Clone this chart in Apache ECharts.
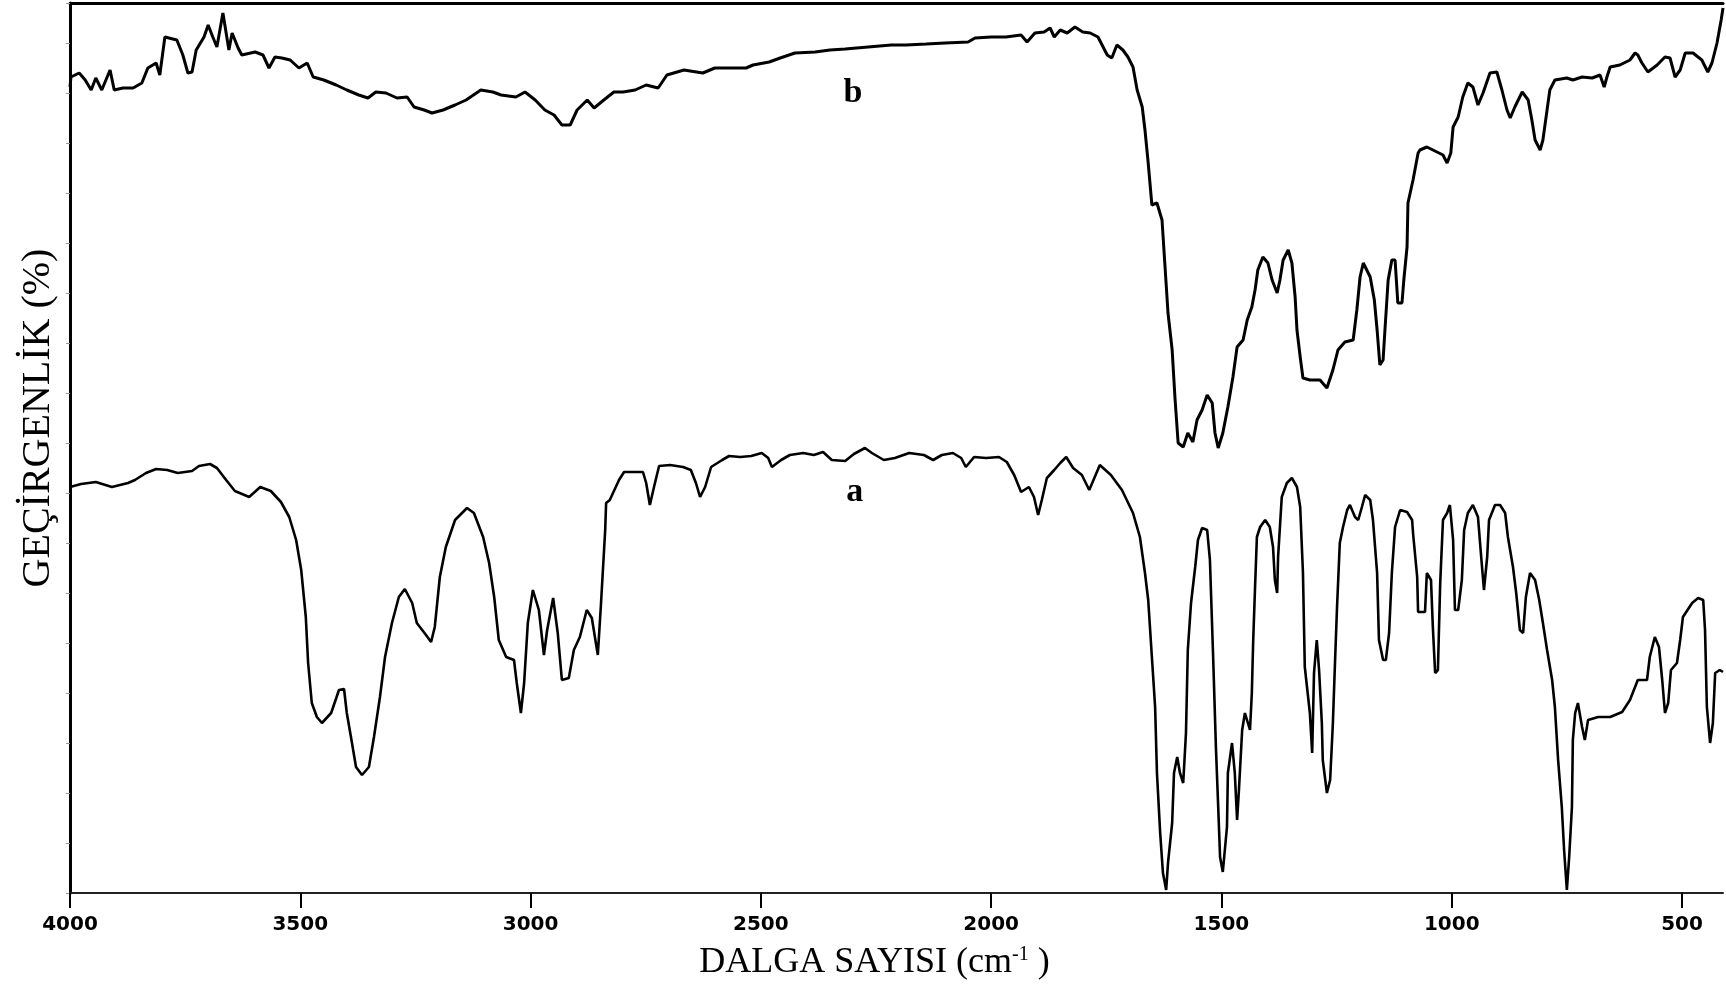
<!DOCTYPE html>
<html>
<head>
<meta charset="utf-8">
<script src="https://cdn.jsdelivr.net/npm/echarts@6/dist/echarts.min.js"></script>
<style>
html,body{margin:0;padding:0;background:#fff;}
#chart{width:1726px;height:986px;}
</style>
</head>
<body>
<div id="chart"></div>
<script>
// Tick labels of the wavenumber axis
const xTicks = [4000, 3500, 3000, 2500, 2000, 1500, 1000, 500];

// Spectrum a (lower trace): wavenumber (cm-1) and transmittance (arbitrary %)
const aWavenumber = [4000,3976,3944,3909,3874,3859,3835,3813,3789,3766,3735,3720,3696,3681,3661,3642,3611,3587,3564,3542,3524,3509,3498,3488,3483,3475,3464,3453,3433,3416,3405,3399,3390,3379,3366,3351,3340,3327,3316,3301,3286,3273,3257,3247,3227,3216,3208,3197,3184,3164,3138,3123,3103,3090,3079,3069,3053,3036,3030,3021,3014,3006,2995,2982,2971,2964,2951,2941,2932,2917,2906,2893,2878,2867,2854,2847,2838,2836,2828,2808,2797,2756,2749,2741,2732,2721,2697,2669,2652,2641,2632,2621,2608,2584,2569,2545,2521,2498,2484,2476,2456,2437,2408,2385,2365,2346,2317,2298,2274,2259,2233,2209,2178,2146,2126,2107,2083,2065,2055,2037,2011,1983,1966,1950,1935,1918,1907,1898,1890,1879,1863,1850,1837,1822,1803,1787,1764,1740,1716,1692,1677,1666,1659,1651,1644,1640,1633,1627,1620,1616,1607,1603,1596,1590,1583,1577,1573,1566,1557,1551,1542,1531,1525,1518,1512,1507,1503,1497,1488,1486,1477,1471,1466,1462,1455,1449,1438,1434,1431,1427,1423,1416,1405,1395,1388,1384,1379,1377,1369,1358,1347,1336,1329,1323,1319,1308,1303,1299,1293,1288,1282,1280,1271,1264,1258,1253,1249,1243,1236,1227,1221,1210,1203,1195,1188,1177,1171,1162,1158,1149,1143,1136,1130,1123,1112,1097,1086,1084,1075,1073,1058,1054,1045,1041,1036,1030,1025,1019,1010,1004,997,993,986,978,973,965,954,943,936,930,923,919,906,895,884,878,867,860,852,845,839,830,819,810,802,793,782,776,769,761,756,750,745,739,737,732,726,717,711,704,682,656,630,613,596,576,570,559,550,543,537,530,524,511,504,498,478,465,454,450,446,439,433,428,418,411];
const aTransmittance = [40.6,40.9,41.1,40.6,41.0,41.3,42.0,42.4,42.3,42.0,42.2,42.7,42.9,42.5,41.3,40.2,39.6,40.6,40.2,39.1,37.6,35.3,32.3,27.6,23.0,19.0,17.6,17.0,18.0,20.3,20.4,18.0,15.6,12.6,11.8,12.6,15.6,19.6,23.6,27.0,29.6,30.4,29.0,27.0,25.8,25.1,26.6,31.6,34.6,37.3,38.5,38.0,35.6,33.0,29.6,25.3,23.6,23.3,21.0,18.0,21.0,27.0,30.3,28.3,23.8,26.3,29.5,26.0,21.3,21.5,24.3,25.6,28.3,27.5,23.8,29.0,36.3,39.0,39.3,41.3,42.1,42.1,41.0,38.8,40.6,42.7,42.8,42.6,42.3,41.0,39.6,40.6,42.6,43.3,43.7,43.6,43.7,44.0,43.5,42.6,43.3,43.8,44.0,43.8,44.1,43.3,43.2,43.9,44.5,44.0,43.3,43.5,44.0,43.8,43.3,43.8,44.0,43.5,42.6,43.6,43.5,43.6,43.1,41.8,40.1,40.6,39.6,37.8,39.3,41.5,42.3,43.0,43.6,42.5,41.8,40.3,42.8,41.8,40.3,38.0,35.6,32.0,29.3,23.6,18.6,12.0,6.0,2.0,0.3,3.0,7.0,12.0,13.6,12.0,11.0,16.0,24.3,29.0,32.6,35.3,36.5,36.3,33.3,23.6,14.6,8.6,3.6,2.1,6.6,12.0,15.0,12.0,7.3,10.3,16.3,18.0,16.3,20.0,25.3,30.6,35.6,36.6,37.3,36.6,34.6,31.3,30.0,33.6,39.6,41.0,41.5,40.6,38.6,32.0,22.6,18.0,14.0,22.0,25.3,22.3,17.0,13.3,10.0,11.3,17.0,23.6,28.6,35.0,36.6,38.3,38.8,37.6,37.3,38.6,39.8,39.3,37.3,32.0,25.3,23.3,23.3,26.0,32.0,36.6,38.3,38.1,37.3,36.0,31.6,28.1,28.1,32.0,31.3,26.6,22.0,22.3,31.0,37.3,38.0,38.8,35.3,28.3,28.3,31.3,36.3,38.0,38.8,37.6,33.6,30.3,33.6,37.3,38.8,38.8,38.0,35.6,32.6,30.0,26.3,26.0,29.6,32.0,31.3,29.3,27.0,24.3,21.3,18.6,13.3,8.6,4.3,0.3,3.6,8.6,15.3,18.0,19.0,16.6,15.3,17.3,17.6,17.6,18.1,19.3,21.3,21.3,23.6,25.6,24.6,21.3,18.0,19.0,22.3,23.0,25.3,27.6,29.0,29.5,29.3,26.3,18.6,15.0,17.0,22.0,22.3,22.1];

// Spectrum b (upper trace)
const bWavenumber = [4000,3998,3980,3967,3954,3944,3931,3913,3904,3885,3863,3844,3831,3813,3805,3794,3768,3755,3744,3735,3726,3709,3700,3690,3681,3668,3655,3648,3635,3627,3598,3581,3568,3555,3540,3522,3503,3485,3472,3449,3422,3399,3373,3353,3336,3314,3290,3268,3253,3231,3214,3190,3164,3140,3108,3082,3064,3032,3012,2990,2969,2949,2932,2914,2899,2877,2862,2841,2819,2799,2773,2749,2723,2704,2667,2626,2600,2567,2532,2517,2482,2458,2426,2382,2350,2317,2267,2217,2185,2141,2100,2050,2035,2000,1968,1935,1922,1905,1885,1872,1863,1850,1835,1818,1801,1785,1768,1748,1738,1727,1714,1703,1692,1683,1672,1666,1659,1651,1640,1629,1623,1616,1607,1601,1594,1583,1573,1562,1553,1542,1531,1520,1514,1507,1497,1486,1475,1466,1453,1444,1434,1427,1421,1410,1399,1390,1379,1373,1366,1355,1347,1340,1336,1329,1323,1308,1286,1271,1258,1247,1232,1214,1206,1199,1192,1177,1168,1162,1156,1149,1145,1138,1130,1123,1117,1108,1104,1097,1095,1084,1073,1069,1054,1032,1019,1010,1002,997,986,976,965,954,943,932,917,902,891,880,873,863,847,834,826,819,808,802,793,787,776,750,737,717,695,678,669,663,656,635,613,602,596,587,574,554,537,526,515,504,493,476,457,444,435,424,415,411];
const bTransmittance = [80.6,81.6,82.0,81.3,80.3,81.5,80.3,82.3,80.3,80.5,80.5,81.0,82.5,83.0,81.8,85.6,85.3,83.8,82.0,82.1,84.3,85.6,86.8,85.6,84.6,88.0,84.3,86.0,84.5,83.8,84.1,83.8,82.5,83.6,83.5,83.3,82.5,83.0,81.6,81.3,80.8,80.3,79.8,79.5,80.1,80.0,79.5,79.6,78.6,78.3,78.0,78.3,78.8,79.3,80.3,80.1,79.8,79.6,80.1,79.3,78.3,77.8,76.8,76.8,78.3,79.3,78.5,79.3,80.1,80.1,80.3,80.8,80.5,81.8,82.3,82.0,82.5,82.5,82.5,82.8,83.1,83.5,84.0,84.1,84.3,84.4,84.6,84.8,84.8,84.9,85.0,85.1,85.5,85.6,85.6,85.8,85.1,86.0,86.1,86.5,85.6,86.3,86.0,86.6,86.1,86.0,85.6,83.8,83.5,84.8,84.3,83.6,82.6,80.3,78.6,76.3,73.0,68.8,69.0,67.3,63.0,58.0,54.3,49.6,45.0,44.6,46.0,45.1,47.3,48.3,49.8,49.0,46.0,44.5,46.0,48.6,51.6,54.6,55.3,57.3,58.6,60.3,62.3,63.6,63.0,61.3,60.0,61.3,63.3,64.3,63.0,59.6,56.3,53.6,51.5,51.3,51.3,50.5,52.3,54.3,55.1,55.3,58.3,61.6,63.0,61.6,59.3,56.3,52.8,53.3,56.3,61.3,63.3,63.3,59.0,59.0,61.3,64.6,69.0,71.3,74.0,74.3,74.6,74.1,73.8,73.0,74.0,76.6,77.6,79.6,81.0,80.6,78.8,80.0,82.0,82.1,80.3,78.3,77.5,78.6,80.1,79.3,77.3,75.3,74.3,75.3,78.3,80.3,81.3,81.5,81.3,81.6,81.5,81.8,80.6,81.6,82.6,82.8,83.3,84.0,83.8,83.0,82.1,82.8,83.6,83.5,81.6,82.3,84.0,84.0,83.3,82.1,83.0,85.0,87.3,88.5];

// Trace labels: [wavenumber, transmittance, text]
const traceLabels = [[2300, 80.0, 'b'], [2296, 40.1, 'a']];

function pairs(xs, ys) { return xs.map((x, i) => [x, ys[i]]); }

const chart = echarts.init(document.getElementById('chart'), null, {renderer: 'canvas'});
const serif = 'Liberation Serif, Times New Roman, serif';

function labelPoint(lbl) {
  return {
    symbol: 'circle', symbolSize: 1, silent: true,
    itemStyle: {color: 'rgba(0,0,0,0)'},
    label: {show: true, position: 'inside', color: '#000', fontFamily: serif,
            fontWeight: 'bold', fontSize: 34, formatter: lbl[2]},
    data: [{coord: [lbl[0], lbl[1]]}]
  };
}

chart.setOption({
  animation: false,
  backgroundColor: '#fff',
  grid: {left: 70, right: 3, top: 3, bottom: 93},
  xAxis: [{
    type: 'value', min: 411, max: 4000, inverse: true, position: 'bottom',
    axisLine: {show: true, onZero: false, lineStyle: {color: '#222', width: 2}},
    axisTick: {show: true, length: 15, lineStyle: {color: '#000', width: 2}, customValues: xTicks},
    axisLabel: {show: true, customValues: xTicks, margin: 22, color: '#000',
                fontFamily: 'DejaVu Sans', fontWeight: 'bold', fontSize: 20,
                formatter: function (v) { return String(v); }},
    splitLine: {show: false},
    name: '{t|DALGA SAYISI (cm}{s|-1}{t| )}',
    nameLocation: 'middle', nameGap: 52,
    nameTextStyle: {padding: [0, 44, 0, 0],
      rich: {t: {fontFamily: serif, fontSize: 36, color: '#000'},
             s: {fontFamily: serif, fontSize: 20, color: '#000', verticalAlign: 'top'}}}
  }, {
    type: 'value', min: 411, max: 4000, inverse: true, position: 'top',
    axisLine: {show: true, onZero: false, lineStyle: {color: '#000', width: 3}},
    axisTick: {show: false}, axisLabel: {show: false}, splitLine: {show: false}
  }],
  yAxis: {
    type: 'value', min: 0, max: 89, interval: 5,
    axisLine: {show: true, onZero: false, lineStyle: {color: '#000', width: 3}},
    axisTick: {show: true, length: 4, lineStyle: {color: '#999', width: 1}},
    axisLabel: {show: false},
    splitLine: {show: false},
    name: 'GEÇİRGENLİK (%)', nameLocation: 'middle', nameGap: 12, nameRotate: 90,
    nameTextStyle: {fontFamily: serif, fontSize: 40, color: '#000', padding: [0, 0, 0, 60]}
  },
  series: [{
    name: 'b', type: 'line', xAxisIndex: 0, data: pairs(bWavenumber, bTransmittance),
    showSymbol: false, silent: true,
    lineStyle: {color: '#000', width: 3},
    markPoint: labelPoint(traceLabels[0])
  }, {
    name: 'a', type: 'line', xAxisIndex: 0, data: pairs(aWavenumber, aTransmittance),
    showSymbol: false, silent: true,
    lineStyle: {color: '#000', width: 2.6},
    markPoint: labelPoint(traceLabels[1])
  }]
});
</script>
</body>
</html>
